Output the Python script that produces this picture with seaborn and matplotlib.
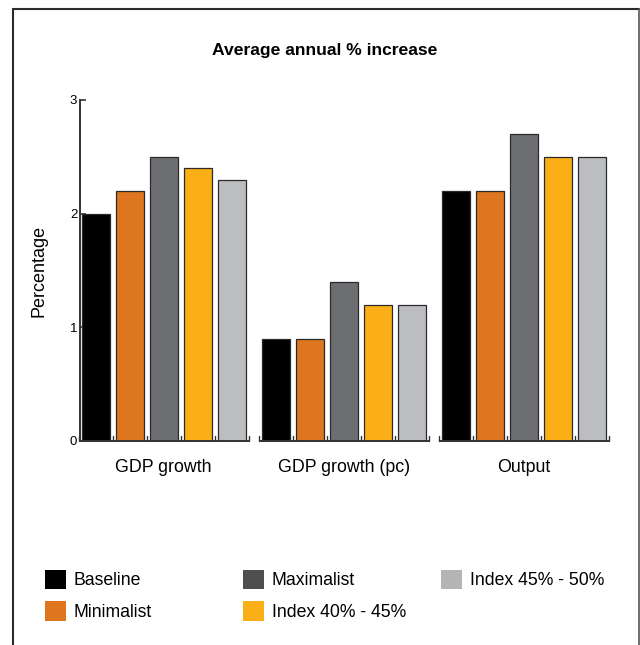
import matplotlib
matplotlib.use("Agg")
import matplotlib.pyplot as plt
from matplotlib.lines import Line2D
from matplotlib.patches import Patch
import numpy as np
import pandas as pd
import seaborn as sns

# Data
measures = ["GDP growth", "GDP growth (pc)", "Output"]
scenarios = ["Baseline", "Minimalist", "Maximalist", "Index 40% - 45%", "Index 45% - 50%"]
baseline = [2.0, 0.9, 2.2]
minimalist = [2.2, 0.9, 2.2]
maximalist = [2.5, 1.4, 2.7]
index_40_45 = [2.4, 1.2, 2.5]
index_45_50 = [2.3, 1.2, 2.5]
y_ticks = [0, 1, 2, 3]

bar_colors = ["#000000", "#DD761E", "#6D6E71", "#FBAF17", "#BCBDC0"]
legend_colors = ["#000000", "#DD761E", "#4F4F4F", "#FBAF17", "#B4B4B4"]

series = [baseline, minimalist, maximalist, index_40_45, index_45_50]
df = pd.DataFrame(
    [(m, s, v) for s, vals in zip(scenarios, series) for m, v in zip(measures, vals)],
    columns=["measure", "scenario", "value"],
)

sns.set_theme(style="white")
plt.rcParams["font.family"] = ["Liberation Sans", "DejaVu Sans"]
for key in ["text.color", "axes.labelcolor", "xtick.color", "ytick.color"]:
    plt.rcParams[key] = "black"

fig = plt.figure(figsize=(6.4, 6.45), dpi=100)
ax = fig.add_axes([0.125, 0.3163, 0.833, 0.5287])

group_width = 0.944
sns.barplot(
    data=df, x="measure", y="value", hue="scenario",
    order=measures, hue_order=scenarios, palette=bar_colors, saturation=1,
    width=group_width, gap=0.18, edgecolor="#2a2a2a", linewidth=0.9,
    legend=False, ax=ax,
)

ax.set_xlim(-0.465, -0.465 + 533 / 180)
ax.set_ylim(0, 3)
ax.set_yticks(y_ticks)
ax.set_yticklabels([str(t) for t in y_ticks], fontsize=9.5)
ax.tick_params(axis="y", direction="in", length=4, width=1.2, color="#333333", pad=2, left=True)
ax.tick_params(axis="x", length=0, pad=13, labelsize=12.8)
ax.set_xlabel("")
ax.set_ylabel("Percentage", fontsize=13, labelpad=16)

for side in ["top", "right", "bottom"]:
    ax.spines[side].set_visible(False)
ax.spines["left"].set_color("#333333")
ax.spines["left"].set_linewidth(1.4)

# Per-group baseline with small upward ticks at each slot boundary
n = len(scenarios)
for i in range(len(measures)):
    left = i - group_width / 2
    right = i + group_width / 2
    ax.plot([left, right], [0, 0], color="#333333", lw=1.4, clip_on=False,
            solid_capstyle="butt", zorder=5)
    for k in range(n + 1):
        xb = left + k * group_width / n
        ax.plot([xb, xb], [0, 0.04], color="#333333", lw=1.0, clip_on=False, zorder=5)

fig.text(0.508, 0.922, "Average annual % increase", ha="center", va="center",
         fontsize=12.6, fontweight="bold")

# Legend in three fixed columns
col_x = [0.07, 0.379, 0.689]
cols = [[0, 1], [2, 3], [4]]
for cx, idxs in zip(col_x, cols):
    handles = [Patch(facecolor=legend_colors[j], edgecolor="none", label=scenarios[j]) for j in idxs]
    fig.legend(handles=handles, loc="upper left", bbox_to_anchor=(cx, 0.117),
               bbox_transform=fig.transFigure, frameon=False, fontsize=12.7,
               handlelength=1.2, handleheight=1.3, handletextpad=0.45,
               labelspacing=0.7, borderpad=0, borderaxespad=0)

# Outer frame, open at the bottom
frame_kw = dict(color="#2a2a2a", lw=1.5, transform=fig.transFigure)
fig.add_artist(Line2D([13 / 640, 639 / 640], [1 - 9 / 645, 1 - 9 / 645], **frame_kw))
fig.add_artist(Line2D([13 / 640, 13 / 640], [0, 1 - 9 / 645], **frame_kw))
fig.add_artist(Line2D([638.5 / 640, 638.5 / 640], [0, 1 - 9 / 645], color="#555555", lw=1.2,
                      transform=fig.transFigure))

fig.savefig("out.png", dpi=100)
